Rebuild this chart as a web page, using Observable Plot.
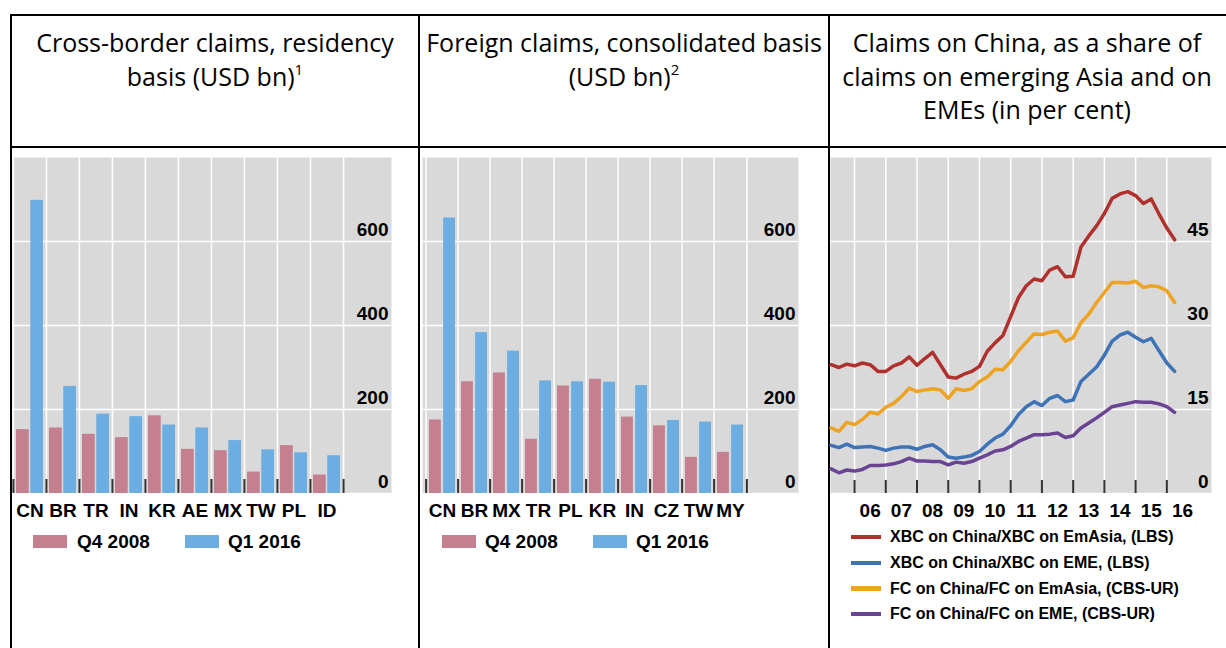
<!DOCTYPE html>
<html>
<head>
<meta charset="utf-8">
<script src="https://cdn.jsdelivr.net/npm/d3@7"></script>
<script src="https://cdn.jsdelivr.net/npm/@observablehq/plot@0.6"></script>
<style>
  html, body { margin: 0; padding: 0; background: #fff; }
  body { width: 1226px; height: 648px; position: relative; overflow: hidden; }
  .hl { position: absolute; background: #000; height: 2px; }
  .vl { position: absolute; background: #000; width: 2px; }
  .hdr { position: absolute; top: 26px; text-align: center; font-family: "Open Sans", sans-serif;
         font-size: 25px; line-height: 33.5px; color: #000; white-space: nowrap; }
  .hdr sup { font-size: 15px; line-height: 0; vertical-align: 11px; }
  .chart { position: absolute; top: 157px; }
  .sw { position: absolute; width: 34px; height: 13px; top: 535px; }
  .lg { position: absolute; font-family: "Liberation Sans", Arial, sans-serif; font-weight: bold;
        font-size: 19px; line-height: 19px; top: 532px; color: #000; white-space: nowrap; }
  .ln { position: absolute; left: 851px; width: 30px; height: 4.5px; }
  .lt { position: absolute; left: 890px; font-family: "Liberation Sans", Arial, sans-serif; font-weight: bold;
        font-size: 16px; line-height: 16px; color: #000; white-space: nowrap; }
</style>
</head>
<body>
<div class="hl" style="left:10px;top:14px;width:1216px"></div>
<div class="hl" style="left:10px;top:146px;width:1216px"></div>
<div class="vl" style="left:10px;top:14px;height:634px"></div>
<div class="vl" style="left:418px;top:14px;height:634px"></div>
<div class="vl" style="left:828px;top:14px;height:634px"></div>

<div class="hdr" style="left:12px;width:406px">Cross-border claims, residency<br>basis (USD bn)<sup>1</sup></div>
<div class="hdr" style="left:420px;width:408px">Foreign claims, consolidated basis<br>(USD bn)<sup>2</sup></div>
<div class="hdr" style="left:830px;width:394px">Claims on China, as a share of<br>claims on emerging Asia and on<br>EMEs (in per cent)</div>

<div id="c1" class="chart" style="left:12px"></div>
<div id="c2" class="chart" style="left:422px"></div>
<div id="c3" class="chart" style="left:830px"></div>

<div id="legends"></div>

<script>
// ---------- DATA ----------
const seriesNames = ["Q4 2008", "Q1 2016"];

const cats1 = ["CN", "BR", "TR", "IN", "KR", "AE", "MX", "TW", "PL", "ID"];
const q408_1 = [152, 156, 141, 133, 185, 105, 102, 51, 114, 44];
const q116_1 = [698, 255, 189, 183, 163, 156, 126, 104, 97, 90];

const cats2 = ["CN", "BR", "MX", "TR", "PL", "KR", "IN", "CZ", "TW", "MY"];
const q408_2 = [175, 266, 287, 129, 256, 272, 182, 161, 86, 98];
const q116_2 = [656, 383, 339, 268, 266, 265, 257, 174, 170, 163];

const barTicks = [0, 200, 400, 600];

const quarters = [
  "2005Q1","2005Q2","2005Q3","2005Q4","2006Q1","2006Q2","2006Q3","2006Q4",
  "2007Q1","2007Q2","2007Q3","2007Q4","2008Q1","2008Q2","2008Q3","2008Q4",
  "2009Q1","2009Q2","2009Q3","2009Q4","2010Q1","2010Q2","2010Q3","2010Q4",
  "2011Q1","2011Q2","2011Q3","2011Q4","2012Q1","2012Q2","2012Q3","2012Q4",
  "2013Q1","2013Q2","2013Q3","2013Q4","2014Q1","2014Q2","2014Q3","2014Q4",
  "2015Q1","2015Q2","2015Q3","2015Q4","2016Q1"
];
const xbcEmAsia = [23.0,22.5,23.1,22.8,23.3,23.0,21.8,21.8,22.8,23.3,24.4,22.9,24.1,25.2,23.0,20.8,20.6,21.3,21.8,22.7,25.4,26.9,28.2,31.6,35.0,37.1,38.3,38.0,39.9,40.5,38.7,38.8,44.0,46.0,47.8,50.0,52.7,53.5,53.9,53.2,51.8,52.6,49.9,47.4,45.3];
const xbcEME = [8.6,8.2,8.8,8.2,8.3,8.4,8.1,7.7,8.1,8.3,8.3,7.9,8.4,8.7,7.8,6.5,6.3,6.5,6.8,7.5,8.8,9.9,10.6,12.1,14.1,15.5,16.4,15.7,17.0,17.5,16.4,16.7,20.0,21.3,22.6,24.7,27.2,28.3,28.8,27.9,27.1,27.7,25.5,23.3,21.8];
const fcEmAsia = [11.7,11.1,12.7,12.3,13.2,14.5,14.2,15.4,16.1,17.3,18.8,18.2,18.5,18.7,18.5,17.0,18.7,18.4,18.7,20.0,20.8,22.2,22.1,23.6,25.5,27.0,28.5,28.4,28.8,29.0,27.2,27.8,30.5,32.0,34.1,35.9,37.7,37.7,37.6,37.9,36.8,37.1,36.9,36.2,34.1];
const fcEME = [4.4,3.7,4.2,4.0,4.3,5.0,5.0,5.1,5.3,5.7,6.3,5.8,5.8,5.7,5.7,5.1,5.6,5.4,5.7,6.3,6.9,7.6,7.8,8.4,9.3,9.9,10.5,10.5,10.6,10.8,10.0,10.3,11.7,12.6,13.5,14.5,15.5,15.8,16.1,16.4,16.3,16.3,16.0,15.5,14.5];

const lineNames = [
  "XBC on China/XBC on EmAsia, (LBS)",
  "XBC on China/XBC on EME, (LBS)",
  "FC on China/FC on EmAsia, (CBS-UR)",
  "FC on China/FC on EME, (CBS-UR)"
];
const lineValues = [xbcEmAsia, xbcEME, fcEmAsia, fcEME];
const lineColors = ["#b0302d", "#3f73b7", "#efa323", "#6a4393"];

const yearLabels = ["06","07","08","09","10","11","12","13","14","15","16"];
const lineTicks = [0, 15, 30, 45];

// ---------- STYLE ----------
const PINK = "#c4808f", BLUE = "#6caee1", GRAY = "#d9d9d9";
const FONT = "'Liberation Sans', Arial, sans-serif";
const H = 370, MB = 34, INNER = H - MB;

function barPanel(cats, v08, v16, width, span) {
  const bw = span / cats.length;
  const rows = cats.map((c, i) => ({c, a: v08[i], b: v16[i]}));
  const last = [cats[cats.length - 1]];
  return Plot.plot({
    width, height: H, marginTop: 0, marginBottom: MB, marginLeft: 0, marginRight: 0,
    x: {type: "band", domain: cats, range: [0, span], padding: 0, axis: null},
    y: {domain: [0, 800], axis: null},
    style: {background: "transparent", fontFamily: FONT, overflow: "visible"},
    marks: [
      Plot.frame({fill: GRAY, stroke: "none"}),
      Plot.ruleY(barTicks, {y: d => d, stroke: "white", strokeWidth: 1.5}),
      Plot.ruleX(cats, {x: d => d, dx: -bw / 2, stroke: "white", strokeWidth: 1.5}),
      Plot.ruleX(last, {x: d => d, dx: bw / 2, stroke: "white", strokeWidth: 1.5}),
      Plot.barY(rows, {x: "c", y: "a", fill: PINK, insetLeft: 3, insetRight: bw / 2 + 0.7}),
      Plot.barY(rows, {x: "c", y: "b", fill: BLUE, insetLeft: bw / 2 + 0.7, insetRight: 3}),
      Plot.ruleX(cats, {x: d => d, dx: -bw / 2, stroke: "#333", strokeWidth: 2, insetTop: INNER - 14}),
      Plot.ruleX(last, {x: d => d, dx: bw / 2, stroke: "#333", strokeWidth: 2, insetTop: INNER - 14}),
      Plot.text(barTicks, {y: d => d, text: d => String(d), frameAnchor: "right", textAnchor: "end",
        lineAnchor: "bottom", dx: -3, dy: -6, fontWeight: "bold", fontSize: 19, fill: "black"}),
      Plot.text(cats, {x: d => d, text: d => d, frameAnchor: "bottom", lineAnchor: "top",
        dy: 10, fontWeight: "bold", fontSize: 19, fill: "black"})
    ]
  });
}

function qTime(q) { return +q.slice(0, 4) + (+q.slice(5)) * 0.25; }

function linePanel() {
  const yearStarts = yearLabels.map(l => 2000 + +l);
  const marks = [
    Plot.frame({fill: GRAY, stroke: "none"}),
    Plot.ruleY(lineTicks, {y: d => d, stroke: "white", strokeWidth: 1.5}),
    Plot.ruleX(yearStarts, {x: d => d, stroke: "white", strokeWidth: 1.5})
  ];
  lineNames.forEach((name, k) => {
    const data = quarters.map((q, i) => ({t: qTime(q), v: lineValues[k][i]}));
    marks.push(Plot.line(data, {x: "t", y: "v", stroke: lineColors[k], strokeWidth: 3.5,
      strokeLinejoin: "round", strokeLinecap: "round"}));
  });
  marks.push(
    Plot.ruleX(yearStarts, {x: d => d, stroke: "#333", strokeWidth: 2, insetTop: INNER - 13}),
    Plot.text(lineTicks, {y: d => d, text: d => String(d), frameAnchor: "right", textAnchor: "end",
      lineAnchor: "bottom", dx: -3, dy: -6, fontWeight: "bold", fontSize: 19, fill: "black"}),
    Plot.text(yearLabels, {x: d => 2000 + +d + 0.5, text: d => d, frameAnchor: "bottom", lineAnchor: "top",
      dy: 10, fontWeight: "bold", fontSize: 19, fill: "black"})
  );
  return Plot.plot({
    width: 381, height: H, marginTop: 0, marginBottom: MB, marginLeft: 0, marginRight: 0,
    x: {domain: [2005.23, 2017.43], axis: null},
    y: {domain: [0, 60], axis: null},
    style: {background: "transparent", fontFamily: FONT, overflow: "visible"},
    marks
  });
}

document.getElementById("c1").append(barPanel(cats1, q408_1, q116_1, 379, 331.3));
document.getElementById("c2").append(barPanel(cats2, q408_2, q116_2, 376, 328));
document.getElementById("c3").append(linePanel());

// ---------- LEGENDS ----------
const lg = document.getElementById("legends");
function add(cls, style, text) {
  const d = document.createElement("div");
  d.className = cls;
  Object.assign(d.style, style);
  if (text) d.textContent = text;
  lg.append(d);
}
[[33, 77, 185, 228], [442, 485, 593, 636]].forEach(([s1, t1, s2, t2]) => {
  add("sw", {left: s1 + "px", background: PINK});
  add("lg", {left: t1 + "px"}, seriesNames[0]);
  add("sw", {left: s2 + "px", background: BLUE});
  add("lg", {left: t2 + "px"}, seriesNames[1]);
});
const rowCenters = [537, 563, 588.5, 614];
lineNames.forEach((n, k) => {
  add("ln", {top: (rowCenters[k] - 2.25) + "px", background: lineColors[k]});
  add("lt", {top: (rowCenters[k] - 7.8) + "px"}, n);
});
</script>
</body>
</html>
